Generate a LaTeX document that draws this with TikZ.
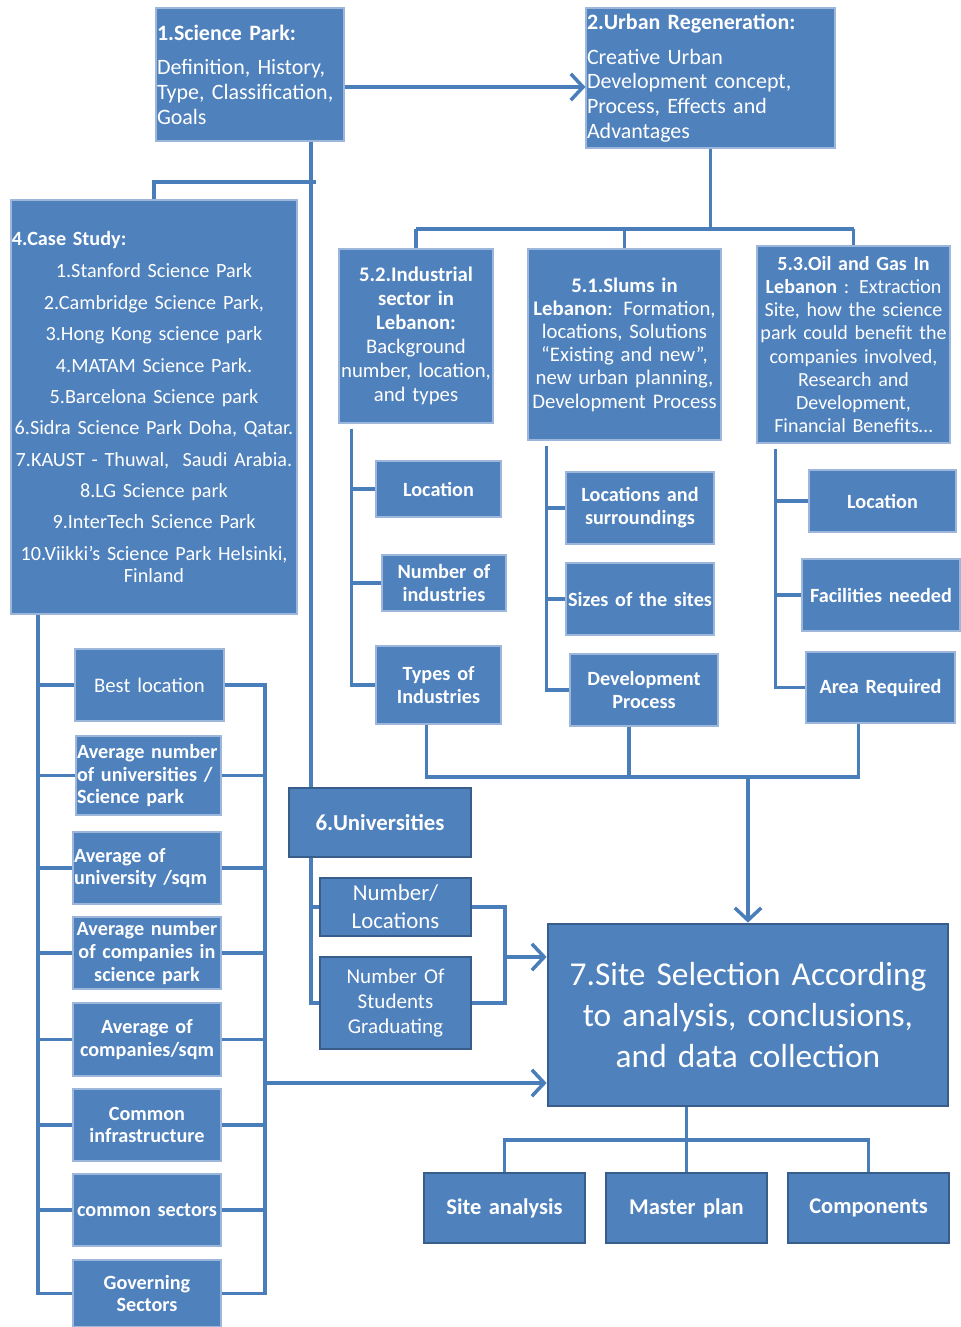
\documentclass[tikz,border=0pt]{standalone}
\usepackage{fontspec}
\setmainfont{Carlito}
\usetikzlibrary{arrows.meta,calc,positioning}

\definecolor{boxblue}{HTML}{4F81BD}
\definecolor{boxedge}{HTML}{385D8A}
\definecolor{boxline}{HTML}{9DB7DC}
\definecolor{linkblue}{HTML}{4A7EBB}

\tikzset{
  box/.style={fill=boxblue, draw=boxline, line width=0.6pt, text=white,
    inner xsep=0.5pt, inner ysep=1pt, align=center,
    font=\fontsize{11.8}{13.5}\selectfont},
  boldbox/.style={box, font=\fontsize{11.5}{13}\selectfont\bfseries},
  darkbox/.style={box, draw=boxedge, line width=1.6pt},
  link/.style={draw=linkblue, line width=2pt},
  arr/.style={link, -{Straight Barb[length=7pt,width=15pt]}}
}

\begin{document}
\begin{tikzpicture}[x=0.02cm,y=-0.02cm]

\newcommand{\bloc}[7]{% name, style, left, top, right, bottom, text
\pgfmathsetmacro{\blocw}{(#5-#3)*0.02}
\pgfmathsetmacro{\bloch}{(#6-#4)*0.02}
\pgfmathsetmacro{\bloct}{(#5-#3)*0.02-0.04}
\node[#2, minimum width=\blocw cm, minimum height=\bloch cm, text width=\bloct cm] (#1) at ({(#3+#5)/2},{(#4+#6)/2}) {#7};
}

\useasboundingbox (0,0) rectangle (960,1327);

%science park
\bloc{sci}{box,align=left,font=\fontsize{12.5}{14}\selectfont}{156}{8}{344}{141}{\textbf{1.Science Park:}\\[0.2cm]Definition, History,\\Type, Classification,\\Goals}
%urban regeneration
\bloc{urb}{box,align=left,font=\fontsize{12.5}{14}\selectfont}{586}{8}{835}{148}{\textbf{2.Urban Regeneration:}\\[0.2cm]Creative Urban\\Development concept,\\Process, Effects and\\Advantages}
%case study
\bloc{case}{box,font=\fontsize{11.5}{13}\selectfont}{11}{200}{297}{614}{\makebox[\linewidth][l]{\textbf{4.Case Study:}}\\[0.2cm]
1.Stanford Science Park\\[0.17cm]
2.Cambridge Science Park,\\[0.17cm]
3.Hong Kong science park\\[0.17cm]
4.MATAM Science Park.\\[0.17cm]
5.Barcelona Science park\\[0.17cm]
6.Sidra Science Park Doha, Qatar.\\[0.17cm]
7.KAUST - Thuwal,~ Saudi Arabia.\\[0.17cm]
8.LG Science park\\[0.17cm]
9.InterTech Science Park\\[0.17cm]
10.Viikki’s Science Park Helsinki,\\Finland}

%industrial sector
\bloc{ind}{box,font=\fontsize{11.8}{13.6}\selectfont}{339}{249}{493}{423}{\textbf{5.2.Industrial}\\\textbf{sector in}\\\textbf{Lebanon:}\\Background\\number, location,\\and types}
%slums
\bloc{slum}{box,font=\fontsize{11.8}{13.2}\selectfont}{528}{249}{721}{440}{\textbf{5.1.Slums in}\\\textbf{Lebanon}: Formation,\\locations, Solutions\\“Existing and new”,\\new urban planning,\\Development Process}
%oil and gas
\bloc{oil}{box,font=\fontsize{11.4}{13.2}\selectfont}{757}{246}{950}{443}{\textbf{5.3.Oil and Gas In}\\\textbf{Lebanon} : Extraction\\Site, how the science\\park could benefit the\\companies involved,\\Research and\\Development,\\Financial Benefits…}

%industrial sector items
\bloc{ind1}{boldbox}{376}{461}{501}{517}{Location}
\bloc{ind2}{boldbox}{382}{555}{506}{611}{Number of\\industries}
\bloc{ind3}{boldbox}{376}{646}{501}{724}{Types of\\Industries}
%slums items
\bloc{slum1}{boldbox}{566}{472}{714}{544}{Locations and\\surroundings}
\bloc{slum2}{boldbox}{566}{563}{714}{635}{Sizes of the sites}
\bloc{slum3}{boldbox}{570}{654}{718}{726}{Development\\Process}
%oil and gas items
\bloc{oil1}{boldbox}{809}{470}{956}{532}{Location}
\bloc{oil2}{boldbox}{802}{559}{960}{631}{Facilities needed}
\bloc{oil3}{boldbox}{806}{652}{955}{723}{Area Required}

%case study items
\bloc{best}{box}{75}{649}{224}{721}{Best location}
\bloc{avg1}{boldbox,align=left}{76}{736}{221}{815}{Average number\\of universities /\\Science park}
\bloc{avg2}{boldbox,align=left}{73}{832}{221}{904}{Average of\\university /sqm}
\bloc{avg3}{boldbox}{73}{917}{221}{989}{Average number\\of companies in\\science park}
\bloc{avg4}{boldbox}{73}{1003}{221}{1076}{Average of\\companies/sqm}
\bloc{infra}{boldbox}{73}{1089}{221}{1161}{Common\\infrastructure}
\bloc{sect}{boldbox}{73}{1174}{221}{1246}{common sectors}
\bloc{gov}{boldbox}{73}{1260}{221}{1327}{Governing\\Sectors}

%universities
\bloc{uni}{darkbox,font=\fontsize{13}{14}\selectfont\bfseries}{289}{788}{471}{857}{6.Universities}
\bloc{numloc}{darkbox,font=\fontsize{13}{16}\selectfont}{320}{878}{471}{936}{Number/\\Locations}
\bloc{stud}{darkbox,font=\fontsize{12}{14.2}\selectfont}{320}{957}{471}{1049}{Number Of\\Students\\Graduating}

%site selection
\bloc{site}{darkbox,font=\fontsize{19}{23.4}\selectfont}{548}{924}{948}{1106}{7.Site Selection According\\to analysis, conclusions,\\and data collection}
%site selection items
\bloc{sa}{darkbox,font=\fontsize{12.8}{14}\selectfont\bfseries}{424}{1173}{585}{1243}{Site analysis}
\bloc{master}{darkbox,font=\fontsize{12.8}{14}\selectfont\bfseries}{606}{1173}{767}{1243}{Master plan}
\bloc{comp}{darkbox,font=\fontsize{12.8}{14}\selectfont\bfseries}{788}{1173}{949}{1243}{Components}

%science park -> urban regeneration
\coordinate (mid) at (465,87);
\draw[arr] (sci.east |- mid) -- (urb.west |- mid);
%science park -> case study, universities
\coordinate (trunk) at (311,182);
\draw[link] (sci.south -| trunk) -- (uni.north -| trunk);
\draw[link] ($(trunk)+(5,0)$) -| (case.north);
%urban regeneration -> 5.x
\coordinate (fork) at (710,229);
\draw[link] (urb.south) -- (urb.south |- fork);
\draw[link] (ind.north |- fork) -- (oil.north |- fork);
\draw[link] (ind.north |- fork) -- (ind.north);
\draw[link] (slum.north |- fork) -- (slum.north);
\draw[link] (oil.north |- fork) -- (oil.north);
%industrial sector spine
\coordinate (indtop) at ($(ind.south west)+(13,5)$);
\draw[link] (indtop) |- (ind3.west);
\draw[link] (ind1.west) -- (ind1.west -| indtop);
\draw[link] (ind2.west) -- (ind2.west -| indtop);
%slums spine
\coordinate (slumtop) at ($(slum.south west)+(19,5)$);
\draw[link] (slumtop) |- (slum3.west);
\draw[link] (slum1.west) -- (slum1.west -| slumtop);
\draw[link] (slum2.west) -- (slum2.west -| slumtop);
%oil and gas spine
\coordinate (oiltop) at ($(oil.south west)+(19,5)$);
\draw[link] (oiltop) |- (oil3.west);
\draw[link] (oil1.west) -- (oil1.west -| oiltop);
\draw[link] (oil2.west) -- (oil2.west -| oiltop);
%5.x items -> site selection
\coordinate (merge) at (748,777);
\coordinate (indfoot) at ($(ind3.south)+(-12,0)$);
\coordinate (slumfoot) at ($(slum3.south)+(-15,0)$);
\coordinate (oilfoot) at ($(oil3.south)+(-22,0)$);
\draw[link] (indfoot) |- (merge) -| (oilfoot);
\draw[link] (slumfoot) -- (slumfoot |- merge);
\draw[arr] (merge) -- (site.north);
%universities -> site selection
\draw[link] (uni.south -| trunk) |- (stud.west);
\draw[link] (numloc.west) -- (numloc.west -| trunk);
\coordinate (unijoin) at (505,957);
\draw[link] (numloc.east) -| (unijoin) |- (stud.east);
\draw[arr] (unijoin) -- (unijoin -| site.west);
%case study items -> site selection
\coordinate (leftspine) at (38,620);
\draw[link] (case.south -| leftspine) |- (gov.west);
\draw[link] (best.west) -- (best.west -| leftspine);
\draw[link] (avg1.west) -- (avg1.west -| leftspine);
\draw[link] (avg2.west) -- (avg2.west -| leftspine);
\draw[link] (avg3.west) -- (avg3.west -| leftspine);
\draw[link] (avg4.west) -- (avg4.west -| leftspine);
\draw[link] (infra.west) -- (infra.west -| leftspine);
\draw[link] (sect.west) -- (sect.west -| leftspine);
\coordinate (rightspine) at (265,1083);
\draw[link] (best.east) -| (rightspine) |- (gov.east);
\draw[link] (avg1.east) -- (avg1.east -| rightspine);
\draw[link] (avg2.east) -- (avg2.east -| rightspine);
\draw[link] (avg3.east) -- (avg3.east -| rightspine);
\draw[link] (avg4.east) -- (avg4.east -| rightspine);
\draw[link] (infra.east) -- (infra.east -| rightspine);
\draw[link] (sect.east) -- (sect.east -| rightspine);
\draw[arr] (rightspine) -- (rightspine -| site.west);
%site selection -> items
\coordinate (split) at (686,1140);
\draw[link] (master.north) -- (master.north |- site.south);
\draw[link] (sa.north) |- (split) -| (comp.north);

\end{tikzpicture}
\end{document}
